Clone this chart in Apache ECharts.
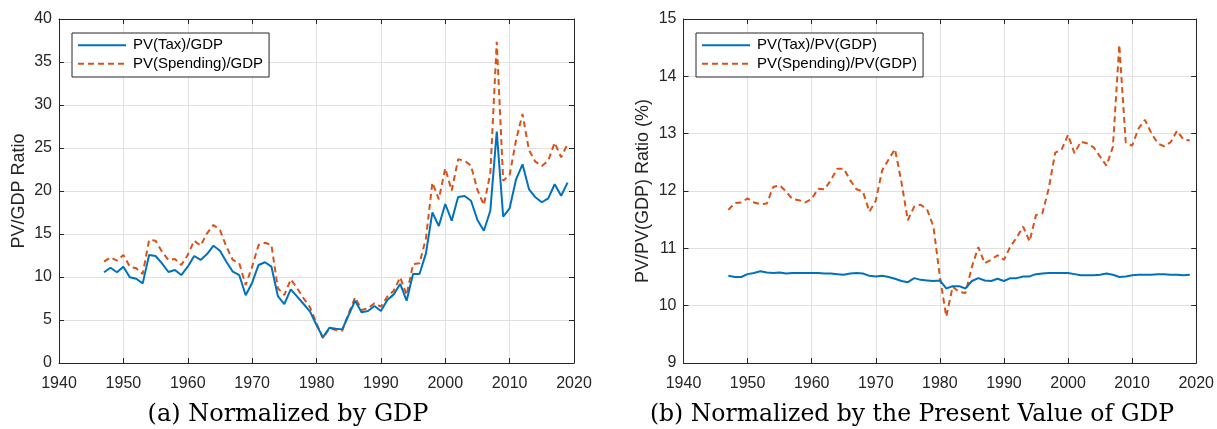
<!DOCTYPE html>
<html><head><meta charset="utf-8">
<script src="https://cdn.jsdelivr.net/npm/echarts@6/dist/echarts.min.js"></script>
<style>html,body{margin:0;padding:0;background:#fff}#c{width:1217px;height:429px}</style>
</head><body><div id="c"></div><script>
const years = [1947,1948,1949,
1950,1951,1952,1953,1954,1955,1956,1957,1958,1959,
1960,1961,1962,1963,1964,1965,1966,1967,1968,1969,
1970,1971,1972,1973,1974,1975,1976,1977,1978,1979,
1980,1981,1982,1983,1984,1985,1986,1987,1988,1989,
1990,1991,1992,1993,1994,1995,1996,1997,1998,1999,
2000,2001,2002,2003,2004,2005,2006,2007,2008,2009,
2010,2011,2012,2013,2014,2015,2016,2017,2018,2019];
const taxGdp = [10.55,11.08,10.55,
11.2,9.96,9.8,9.26,12.56,12.44,11.59,10.58,10.81,10.23,
11.2,12.44,11.98,12.67,13.64,13.06,11.78,10.62,10.23,7.87,
9.34,11.4,11.71,11.2,7.79,6.86,8.57,7.71,6.86,5.97,
4.42,2.98,4.1,3.99,3.91,5.58,7.25,5.89,6.05,6.63,
6.05,7.33,7.98,9.19,7.25,10.35,10.35,12.75,17.52,15.93,
18.49,16.55,19.3,19.42,18.87,16.63,15.38,17.71,26.9,17.01,
17.99,21.36,23.1,20.23,19.27,18.69,19.15,20.78,19.45,20.97];
const spendGdp = [11.78,12.29,11.9,
12.56,11.2,11.01,10.35,14.3,14.22,12.94,11.98,12.09,11.4,
12.56,14.22,13.64,15.08,16.05,15.47,13.53,11.98,11.59,9.07,
11.2,13.72,13.99,13.72,8.69,7.9,9.73,8.69,7.52,6.48,
4.61,2.87,4.03,3.84,3.76,5.78,7.64,6.16,6.36,6.94,
6.55,7.71,8.41,9.96,7.9,11.5,11.6,14.5,20.97,19.03,
22.64,20.04,23.68,23.53,22.95,20.12,18.37,22.05,37.36,21.2,
21.86,25.93,28.95,24.77,23.41,22.91,23.53,25.62,23.92,25.47];
const taxPv = [10.52,10.50,10.50,
10.55,10.57,10.60,10.58,10.57,10.58,10.56,10.57,10.57,10.57,
10.57,10.57,10.56,10.56,10.55,10.54,10.56,10.57,10.56,10.52,
10.51,10.52,10.50,10.47,10.43,10.41,10.48,10.45,10.44,10.43,
10.44,10.30,10.34,10.34,10.30,10.43,10.48,10.44,10.43,10.47,
10.43,10.48,10.48,10.51,10.51,10.55,10.56,10.57,10.57,10.57,
10.57,10.55,10.53,10.53,10.53,10.54,10.56,10.54,10.50,10.51,
10.53,10.54,10.54,10.54,10.55,10.55,10.54,10.54,10.53,10.54];
const spendPv = [11.67,11.79,11.80,
11.87,11.80,11.77,11.78,12.07,12.10,11.99,11.86,11.84,11.80,
11.86,12.04,12.03,12.19,12.39,12.39,12.19,12.03,11.99,11.64,
11.83,12.36,12.55,12.73,12.16,11.49,11.73,11.76,11.68,11.38,
10.51,9.81,10.33,10.24,10.22,10.68,11.02,10.74,10.80,10.88,
10.80,11.03,11.19,11.38,11.12,11.58,11.61,12.05,12.67,12.72,
12.98,12.66,12.86,12.83,12.76,12.60,12.44,12.77,14.55,12.85,
12.79,13.09,13.24,13.01,12.83,12.78,12.85,13.05,12.90,12.88];
const xTicks = [1940,1950,1960,1970,1980,1990,2000,2010,2020];
const leftYTicks = [0,5,10,15,20,25,30,35,40];
const rightYTicks = [9,10,11,12,13,14,15];
const legendLeft = ['PV(Tax)/GDP','PV(Spending)/GDP'];
const legendRight = ['PV(Tax)/PV(GDP)','PV(Spending)/PV(GDP)'];
const yNames = ['PV/GDP Ratio','PV/PV(GDP) Ratio (%)'];
const captions = ['(a) Normalized by GDP','(b) Normalized by the Present Value of GDP'];

const pair = (vals) => years.map((y,i)=>[y, vals[i]]);
const AX = '#262626', GRID = '#e0e0e0', BLUE = '#0072BD', ORANGE = '#D95319';
const FONT = 'Liberation Sans, Arial, sans-serif';

function xAx(gi, top){
  return {type:'value', gridIndex:gi, position: top?'top':'bottom',
    min:xTicks[0], max:xTicks[xTicks.length-1], interval:xTicks[1]-xTicks[0],
    axisLine:{show:true, onZero:false, lineStyle:{color:AX, width:1}},
    axisTick:{show:true, inside:true, length:5, lineStyle:{color:AX}},
    axisLabel:{show:!top, color:AX, fontSize:16, fontFamily:FONT, margin:13, formatter:(v)=>String(v)},
    splitLine:{show:!top, lineStyle:{color:GRID, width:1}}};
}
function yAx(gi, right, ticks, name){
  return {type:'value', gridIndex:gi, position: right?'right':'left',
    min:ticks[0], max:ticks[ticks.length-1], interval:ticks[1]-ticks[0],
    name: right?'':name, nameLocation:'middle', nameGap:31,
    nameTextStyle:{color:AX, fontSize:18, fontFamily:FONT},
    axisLine:{show:true, onZero:false, lineStyle:{color:AX, width:1}},
    axisTick:{show:true, inside:true, length:5, lineStyle:{color:AX}},
    axisLabel:{show:!right, color:AX, fontSize:16, fontFamily:FONT, margin:7, formatter:(v)=>String(v)},
    splitLine:{show:!right, lineStyle:{color:GRID, width:1}}};
}
function legend(left, names){
  return {orient:'vertical', left:left, top:33, data:names,
    itemWidth:48, itemHeight:12, itemGap:0,
    itemStyle:{opacity:0},
    padding:[3,6,4,5], borderColor:AX, borderWidth:1, borderRadius:0,
    backgroundColor:'#fff',
    textStyle:{color:'#000', fontSize:15, fontFamily:FONT, lineHeight:18.5, padding:[0,0,0,2]}};
}
const solid = {color:BLUE, width:2, type:'solid'};
const dashed = {color:ORANGE, width:2, type:[6,4]};

const option = {
  animation:false,
  backgroundColor:'#fff',
  grid:[{left:59, right:1217-574, top:19, bottom:429-363},
        {left:683.5, right:1217-1198, top:19, bottom:429-363}],
  xAxis:[xAx(0,false), xAx(0,true), xAx(1,false), xAx(1,true)],
  yAxis:[yAx(0,false,leftYTicks,yNames[0]), yAx(0,true,leftYTicks,''),
         yAx(1,false,rightYTicks,yNames[1]), yAx(1,true,rightYTicks,'')],
  legend:[legend(72, legendLeft), legend(696, legendRight)],
  series:[
    {name:legendLeft[0], type:'line', xAxisIndex:0, yAxisIndex:0, data:pair(taxGdp), symbol:'none', lineStyle:solid, itemStyle:{color:BLUE}, z:3},
    {name:legendLeft[1], type:'line', xAxisIndex:0, yAxisIndex:0, data:pair(spendGdp), symbol:'none', lineStyle:dashed, itemStyle:{color:ORANGE}, z:2},
    {name:legendRight[0], type:'line', xAxisIndex:2, yAxisIndex:2, data:pair(taxPv), symbol:'none', lineStyle:solid, itemStyle:{color:BLUE}, z:3},
    {name:legendRight[1], type:'line', xAxisIndex:2, yAxisIndex:2, data:pair(spendPv), symbol:'none', lineStyle:dashed, itemStyle:{color:ORANGE}, z:2}
  ],
  graphic:[
    {type:'text', x:288, y:415, style:{text:captions[0], fill:'#000', font:'24px "DejaVu Serif", serif', textAlign:'center', textVerticalAlign:'middle'}},
    {type:'text', x:912, y:415, style:{text:captions[1], fill:'#000', font:'23.5px "DejaVu Serif", serif', textAlign:'center', textVerticalAlign:'middle'}}
  ]
};
const chart = echarts.init(document.getElementById('c'), null, {renderer:'canvas'});
chart.setOption(option);
</script></body></html>
